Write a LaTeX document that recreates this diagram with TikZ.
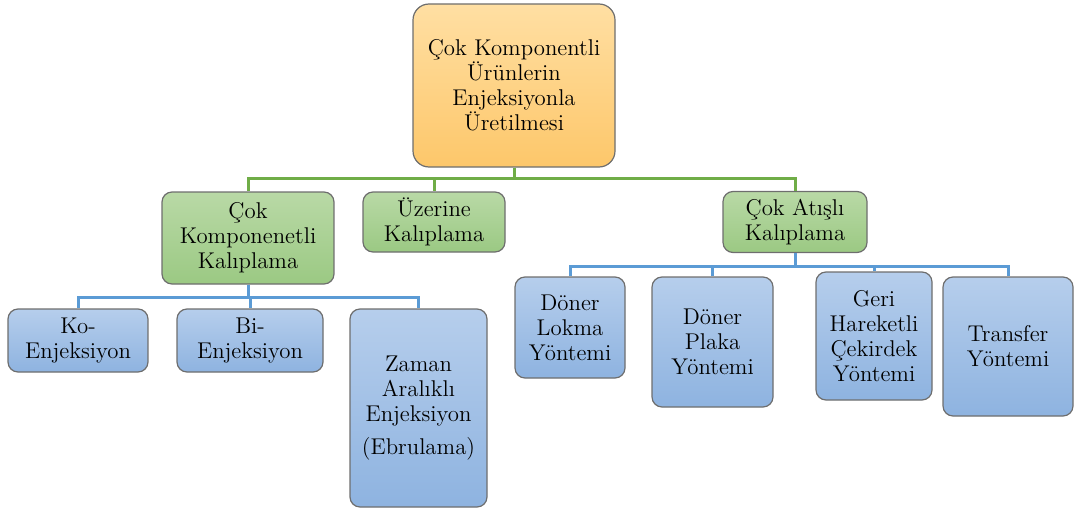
\documentclass[tikz,border=0pt]{standalone}
\usepackage{fontspec}
\usepackage{tikz}
\usetikzlibrary{positioning}
\definecolor{orangeTop}{HTML}{FFDFA3}
\definecolor{orangeBot}{HTML}{FDC76A}
\definecolor{greenTop}{HTML}{B9D9A6}
\definecolor{greenBot}{HTML}{9BC983}
\definecolor{blueTop}{HTML}{B6CEEC}
\definecolor{blueBot}{HTML}{8EB3E0}
\definecolor{greenLink}{HTML}{70AD47}
\definecolor{blueLink}{HTML}{5B9BD5}
\definecolor{boxLine}{HTML}{6E6E6E}

\begin{document}
\begin{tikzpicture}[x=0.5pt,y=-0.5pt,every node/.style={font=\fontsize{11.4}{12.5}\selectfont},box/.style={draw=boxLine,line width=0.6pt,rounded corners=5pt,align=center,inner sep=1pt},topbox/.style={box,rounded corners=8pt,top color=orangeTop,bottom color=orangeBot},midbox/.style={box,top color=greenTop,bottom color=greenBot},leafbox/.style={box,top color=blueTop,bottom color=blueBot},glink/.style={draw=greenLink,line width=1.5pt},blink/.style={draw=blueLink,line width=1.5pt}]
\useasboundingbox (0,0) rectangle (1074,508);
% root
\node[topbox,minimum width=101pt,minimum height=81.5pt] (urun) at (514,85.5) {Çok Komponentli\\Ürünlerin\\Enjeksiyonla\\Üretilmesi};
% second level
\node[midbox,minimum width=86pt,minimum height=46pt] (cokkomp) at (248,238) {Çok\\Komponenetli\\Kalıplama};
\node[midbox,minimum width=71pt,minimum height=30pt] (uzerine) at (434,222) {Üzerine\\Kalıplama};
\node[midbox,minimum width=72pt,minimum height=30.5pt] (cokatis) at (795,222) {Çok Atışlı\\Kalıplama};
% leaves
\node[leafbox,minimum width=70pt,minimum height=31.5pt] (ko) at (78,340.5) {Ko-\\Enjeksiyon};
\node[leafbox,minimum width=73pt,minimum height=31.5pt] (bi) at (250,340.5) {Bi-\\Enjeksiyon};
\node[leafbox,minimum width=68.5pt,minimum height=99pt] (zaman) at (418.5,408) {Zaman\\Aralıklı\\Enjeksiyon\\[4pt](Ebrulama)};
\node[leafbox,minimum width=55pt,minimum height=50.5pt] (lokma) at (570,327.5) {Döner\\Lokma\\Yöntemi};
\node[leafbox,minimum width=60.5pt,minimum height=65pt] (plaka) at (712.5,342) {Döner\\Plaka\\Yöntemi};
\node[leafbox,minimum width=58pt,minimum height=64pt] (geri) at (874,336) {Geri\\Hareketli\\Çekirdek\\Yöntemi};
\node[leafbox,minimum width=65pt,minimum height=69.5pt] (transfer) at (1008,346.5) {Transfer\\Yöntemi};
% links
\draw[glink] (urun.south) -- ++(0,11) -| (cokkomp.north);
\draw[glink] (urun.south) -- ++(0,11) -| (uzerine.north);
\draw[glink] (urun.south) -- ++(0,11) -| (cokatis.north);
\draw[blink] (cokkomp.south) -- ++(0,13) -| (ko.north);
\draw[blink] (cokkomp.south) -- ++(0,13) -| (bi.north);
\draw[blink] (cokkomp.south) -- ++(0,13) -| (zaman.north);
\draw[blink] (cokatis.south) -- ++(0,13) -| (lokma.north);
\draw[blink] (cokatis.south) -- ++(0,13) -| (plaka.north);
\draw[blink] (cokatis.south) -- ++(0,13) -| (geri.north);
\draw[blink] (cokatis.south) -- ++(0,13) -| (transfer.north);
\end{tikzpicture}
\end{document}
